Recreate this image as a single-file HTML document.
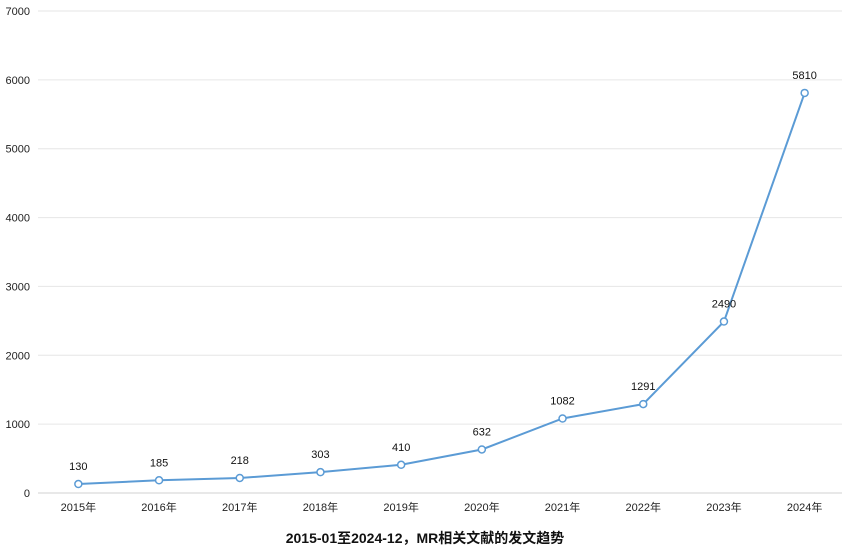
<!DOCTYPE html>
<html><head><meta charset="utf-8">
<style>
html,body{margin:0;padding:0;background:#fff;}
svg{display:block;font-family:"Liberation Sans","Noto Sans CJK SC",sans-serif;}
</style></head>
<body>
<svg id="chart" width="842" height="551" xmlns="http://www.w3.org/2000/svg">
<text x="425" y="543" text-anchor="middle" font-size="14" font-weight="bold" fill="#111">2015-01至2024-12，MR相关文献的发文趋势</text>
</svg>
<script>
const categories = ["2015年","2016年","2017年","2018年","2019年","2020年","2021年","2022年","2023年","2024年"];
const values = [130,185,218,303,410,632,1082,1291,2490,5810];
const yTicks = [0,1000,2000,3000,4000,5000,6000,7000];

const chartSvg = document.getElementById('chart');
const NS = 'http://www.w3.org/2000/svg';
const plotLeft = 38, plotRight = 845, plotTop = 11, plotBottom = 493, yMax = 7000;
const band = (plotRight - plotLeft) / categories.length;
const xPos = i => plotLeft + band * (i + 0.5);
const yPos = v => plotBottom - (v / yMax) * (plotBottom - plotTop);
function mk(tag, attrs) { const e = document.createElementNS(NS, tag); for (const k in attrs) e.setAttribute(k, attrs[k]); chartSvg.appendChild(e); return e; }

yTicks.forEach(t => {
  const g = mk('line', {x1: plotLeft, x2: plotRight, y1: yPos(t), y2: yPos(t), stroke: t === 0 ? '#d0d0d0' : '#e6e6e6', 'stroke-width': 1});
  
  
  const l = mk('text', {x: 30, y: yPos(t) + 4, 'text-anchor': 'end', 'font-size': 11, fill: '#222'});
  l.textContent = t;
  
  
});
categories.forEach((c, i) => {
  const l = mk('text', {x: xPos(i), y: 511, 'text-anchor': 'middle', 'font-size': 11, fill: '#222'});
  l.textContent = c;
  
  
});
const path = mk('polyline', {points: values.map((v, i) => xPos(i) + ',' + yPos(v)).join(' '), fill: 'none', stroke: '#5b9bd5', 'stroke-width': 2});


values.forEach((v, i) => {
  const p = mk('circle', {cx: xPos(i), cy: yPos(v), r: 3.5, fill: '#fff', stroke: '#5b9bd5', 'stroke-width': 1.5});
  
  
  const l = mk('text', {x: xPos(i), y: yPos(v) - 14, 'text-anchor': 'middle', 'font-size': 11, fill: '#111'});
  l.textContent = v;
  
  
});
</script>
</body></html>
